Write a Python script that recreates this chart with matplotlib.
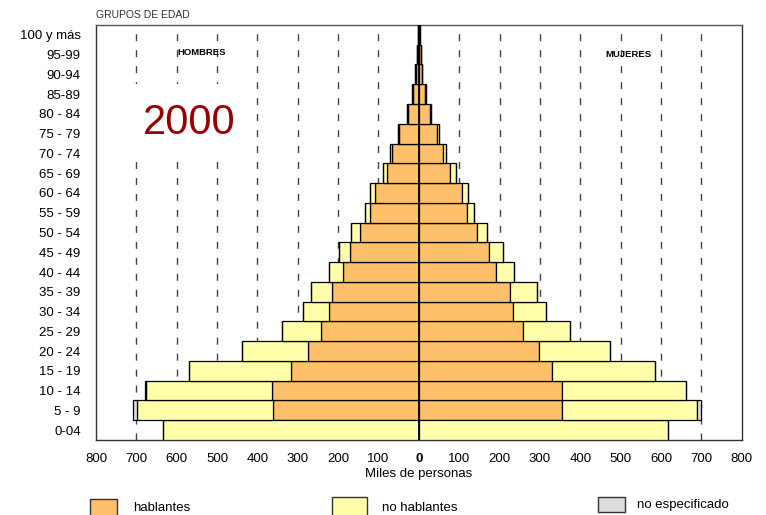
import matplotlib
matplotlib.use("Agg")
import matplotlib.pyplot as plt
from matplotlib.patches import Rectangle
import numpy as np

plt.rcParams['font.family'] = ['Liberation Sans', 'DejaVu Sans']

# grupos de edad, de abajo hacia arriba
grupos = ['0-04', '5 - 9', '10 - 14', '15 - 19', '20 - 24', '25 - 29', '30 - 34',
          '35 - 39', '40 - 44', '45 - 49', '50 - 54', '55 - 59', '60 - 64',
          '65 - 69', '70 - 74', '75 - 79', '80 - 84', '85-89', '90-94', '95-99',
          '100 y más']

# miles de personas
hombres_hab = [0, 361, 364, 318, 274, 243, 222, 216, 188, 171, 146, 120, 109,
               80, 66, 48, 27, 15, 8, 4, 1]
hombres_nohab = [635, 337, 313, 251, 164, 97, 65, 50, 35, 26, 21, 14, 12,
                 8, 6, 3, 2, 2, 1, 1, 1]
hombres_noesp = [0, 10, 2, 0, 0, 0, 0, 0, 0, 0, 0, 0, 0, 0, 0, 0, 0, 0, 0, 0, 0]

mujeres_hab = [0, 355, 354, 331, 298, 259, 233, 227, 190, 175, 145, 120, 108,
               78, 60, 46, 27, 15, 8, 5, 1]
mujeres_nohab = [618, 333, 308, 255, 175, 115, 82, 65, 47, 34, 23, 17, 14,
                 13, 7, 3, 2, 2, 1, 1, 1]
mujeres_noesp = [0, 10, 1, 0, 0, 0, 0, 0, 0, 0, 0, 0, 0, 0, 0, 0, 0, 0, 0, 0, 0]

xticks = [-800, -700, -600, -500, -400, -300, -200, -100, 0,
          100, 200, 300, 400, 500, 600, 700, 800]

c_hab = '#FFC06B'
c_nohab = '#FFFFAA'
c_noesp = '#DDDDDD'

fig = plt.figure(figsize=(7.66, 5.15), dpi=100)
ax = fig.add_axes([0.1253, 0.1456, 0.843, 0.806])

y = np.arange(len(grupos))
hh = np.array(hombres_hab)
hn = np.array(hombres_nohab)
he = np.array(hombres_noesp)
mh = np.array(mujeres_hab)
mn = np.array(mujeres_nohab)
me = np.array(mujeres_noesp)

kw = dict(height=1.0, edgecolor='black', linewidth=0.9, zorder=3)
ax.barh(y, -hh, color=c_hab, **kw)
ax.barh(y, -hn, left=-hh, color=c_nohab, **kw)
ax.barh(y, -he, left=-(hh + hn), color=c_noesp, **kw)
ax.barh(y, mh, color=c_hab, **kw)
ax.barh(y, mn, left=mh, color=c_nohab, **kw)
ax.barh(y, me, left=mh + mn, color=c_noesp, **kw)

for xv in xticks:
    if xv in (-800, 0, 800):
        continue
    ax.axvline(xv, color='#444444', lw=1.0, linestyle=(0, (5, 6.5)), zorder=1)
ax.axvline(0, color='black', lw=1.3, zorder=4)

ax.set_xlim(-800, 800)
ax.set_ylim(-0.5, len(grupos) - 0.5)
ax.set_xticks(xticks)
ax.set_xticklabels([str(abs(v)) for v in xticks], fontsize=9.5)
ax.get_xticklabels()[8].set_fontweight('bold')
ax.set_yticks(y)
ax.set_yticklabels(grupos, fontsize=9.5)
ax.tick_params(axis='x', length=0, pad=9)
ax.tick_params(axis='y', length=0, pad=11)
for s in ax.spines.values():
    s.set_color('#333333')
    s.set_linewidth(1.0)
ax.spines['top'].set_color('#555555')

ax.text(-598, 19.1, 'HOMBRES', fontsize=6.8, fontweight='bold', ha='left',
        va='center', zorder=5)
ax.text(462, 19.0, 'MUJERES', fontsize=6.8, fontweight='bold', ha='left',
        va='center', zorder=5)
ax.text(-570, 15.55, '2000', fontsize=30, color='#990000', ha='center',
        va='center', zorder=5,
        bbox=dict(facecolor='white', edgecolor='none',
                  boxstyle='square,pad=0.45'))

fig.text(96 / 766, 1 - 15 / 515, 'GRUPOS DE EDAD', fontsize=7.5,
         color='#333333', ha='left', va='center')
fig.text(419 / 766, 1 - 474 / 515, 'Miles de personas', fontsize=9.5,
         ha='center', va='center')

# leyenda
legend = [('hablantes', c_hab, 90, 499, 27, 20, 133, 508),
          ('no hablantes', c_nohab, 332, 497, 35, 20, 382, 508),
          ('no especificado', c_noesp, 598, 497, 27, 15, 637, 505)]
for lab, col, px, py, pw, ph, tx, ty in legend:
    fig.patches.append(Rectangle((px / 766, 1 - (py + ph) / 515), pw / 766,
                                 ph / 515, transform=fig.transFigure,
                                 facecolor=col, edgecolor='#333333', lw=1.0))
    fig.text(tx / 766, 1 - ty / 515, lab, fontsize=9.5, ha='left', va='center')

fig.savefig('out.png', dpi=100)
